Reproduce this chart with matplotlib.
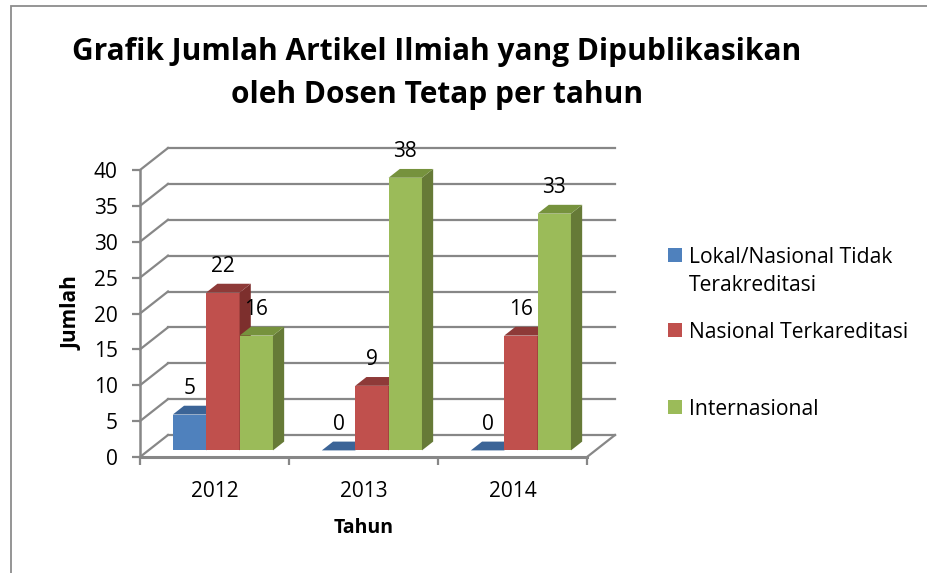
import matplotlib
matplotlib.use('Agg')
import numpy as np
import matplotlib.pyplot as plt
from matplotlib.patches import Polygon, Rectangle

# data
years = ['2012', '2013', '2014']
series_names = ['Lokal/Nasional Tidak\nTerakreditasi', 'Nasional Terkareditasi', 'Internasional']
lokal = [5, 0, 0]
nasional = [22, 9, 16]
internasional = [16, 38, 33]
yticks = [0, 5, 10, 15, 20, 25, 30, 35, 40]

front_cols = ['#4F81BD', '#C0504D', '#9BBB59']
top_cols = ['#3B6497', '#8E3A38', '#76923D']
side_cols = ['#34598A', '#7D2F2D', '#667A37']
grid_col = '#878787'

plt.rcParams['font.family'] = ['Open Sans', 'DejaVu Sans']

W, H = 927, 573
fig = plt.figure(figsize=(W / 100, H / 100), dpi=100)
ax = fig.add_axes([140 / W, 1 - 457 / H, 447 / W, 287 / H])
ax.set_xlim(0, 3)
ax.set_ylim(0, 40)

# depth of the 3d box in data units
DX = 28 / 149.0
DY = 22 / 7.175

# outer chart border (only top/left visible)
fig.patches.append(Rectangle((11 / W, -0.5), 2, 1.5 - 6 / H, transform=fig.transFigure,
                             fill=False, ec='#8c8c8c', lw=1.3))

# back wall gridlines + side wall diagonals
for t in yticks:
    ax.plot([DX, 3 + DX], [t + DY, t + DY], color=grid_col, lw=1.6, clip_on=False, zorder=1)
    ax.plot([0, DX], [t, t + DY], color=grid_col, lw=1.6, clip_on=False, zorder=1)
# floor right edge
ax.plot([3, 3 + DX], [0, DY], color=grid_col, lw=1.6, clip_on=False, zorder=1)
# front floor edge / axis
ax.plot([0, 3], [0, 0], color=grid_col, lw=2.2, clip_on=False, zorder=5)

# bars
data = [lokal, nasional, internasional]
bw = 0.224
d0, d1 = 0.3, 0.7
ox, oy = d0 * DX, d0 * DY
ddx, ddy = (d1 - d0) * DX, (d1 - d0) * DY
for i in range(len(years)):
    start = i + 0.5 - 1.5 * bw + ox
    for s in range(3):
        v = data[s][i]
        x0 = start + s * bw
        x1 = x0 + bw
        y0 = oy
        y1 = oy + v
        z = 2 + s * 0.1
        if v > 0:
            ax.add_patch(Rectangle((x0, y0), bw, v, fc=front_cols[s], ec='none', zorder=z, clip_on=False))
            ax.add_patch(Polygon([(x1, y0), (x1 + ddx, y0 + ddy), (x1 + ddx, y1 + ddy), (x1, y1)],
                                 closed=True, fc=side_cols[s], ec='none', zorder=z, clip_on=False))
        ax.add_patch(Polygon([(x0, y1), (x1, y1), (x1 + ddx, y1 + ddy), (x0 + ddx, y1 + ddy)],
                             closed=True, fc=top_cols[s], ec='none', zorder=z, clip_on=False))
        ax.annotate(str(v), xy=(x0 + bw / 2, y1), xytext=(0, 26), textcoords='offset pixels',
                    ha='center', va='center', fontsize=15, zorder=10, annotation_clip=False)

# axes styling
for sp in ['top', 'right', 'bottom']:
    ax.spines[sp].set_visible(False)
ax.spines['left'].set_color(grid_col)
ax.spines['left'].set_linewidth(1.8)
ax.set_yticks(yticks)
ax.tick_params(axis='y', length=6, width=1.6, color=grid_col, labelsize=15, pad=10)
ax.set_xticks([0, 1, 2, 3])
ax.set_xticklabels([])
ax.set_xticks([0.5, 1.5, 2.5], minor=True)
ax.set_xticklabels(years, minor=True)
ax.tick_params(axis='x', which='major', length=6, width=1.6, color=grid_col)
ax.tick_params(axis='x', which='minor', length=0, labelsize=15, pad=17)
ax.patch.set_alpha(0)

ax.set_ylabel('Jumlah', fontsize=15, fontweight='bold', labelpad=8)
ax.set_xlabel('Tahun', fontsize=14, fontweight='bold', labelpad=12)

fig.text(437 / W, 1 - 52 / H, 'Grafik Jumlah Artikel Ilmiah yang Dipublikasikan',
         ha='center', va='center', fontsize=21.5, fontweight='bold')
fig.text(437 / W, 1 - 95 / H, 'oleh Dosen Tetap per tahun',
         ha='center', va='center', fontsize=21.5, fontweight='bold')

# legend drawn by hand
leg_y = [255, 330, 407]
for s in range(3):
    fig.patches.append(Rectangle((668 / W, 1 - (leg_y[s] + 7) / H), 14 / W, 14 / H,
                                 transform=fig.transFigure, fc=front_cols[s], ec='none'))
    fig.text(689 / W, 1 - (leg_y[s] - 8) / H, series_names[s], ha='left', va='top',
             fontsize=15.2, linespacing=1.43)

fig.savefig('out.png', dpi=100)
